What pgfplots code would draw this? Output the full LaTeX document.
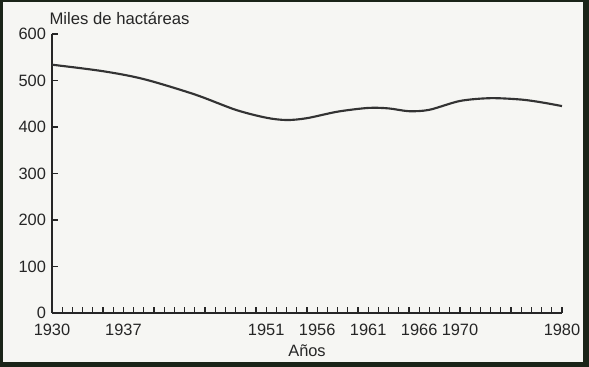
\documentclass[border=0pt]{standalone}
\usepackage{pgfplots}
\pgfplotsset{compat=1.18}
\usepackage{fontspec}
\setmainfont{Liberation Sans}
\definecolor{frame}{HTML}{1A2418}
\definecolor{paper}{HTML}{F6F6F3}
\begin{document}
\begin{tikzpicture}
\fill[frame] (-39pt,-40.5pt) rectangle (402.75pt,234.75pt);
\fill[paper] (-36.5pt,-37pt) rectangle (398.5pt,233pt);
\begin{axis}[
  at={(0,0)}, anchor=south west,
  scale only axis, width=382.5pt, height=209.25pt,
  xmin=1930, xmax=1980, ymin=0, ymax=600,
  axis x line=bottom, axis y line=left,
  axis line style={-, line width=1.1pt, black!85},
  xtick={1930,1937,1951,1956,1961,1966,1970,1980},
  minor xtick={1931,...,1979},
  ytick={0,100,...,600},
  tick align=inside,
  major tick length=4.5pt, minor tick length=4.5pt,
  every tick/.style={black!85, line width=0.9pt},
  /pgf/number format/1000 sep={},
  /pgf/number format/assume math mode=true,
  tick label style={font=\fontsize{12.3}{14}\selectfont, black!85},
  yticklabel style={xshift=-1pt},
  xticklabel style={yshift=-4.5pt},
  xlabel={Años},
  xlabel style={font=\fontsize{12.3}{14}\selectfont, black!85, yshift=0pt},
  clip=false,
]
\addplot[line width=1.6pt, black!80, smooth] coordinates {
(1930,534) (1935,520) (1939,503) (1944,470) (1948,437) (1951,420)
(1953,415) (1955,419) (1958,433) (1961,441) (1963,440) (1965,434)
(1967,437) (1970,456) (1973,462) (1976,459) (1978,453) (1980,445)
};
\node[anchor=south west, font=\fontsize{12.5}{14}\selectfont, black!85, inner sep=0pt] at (rel axis cs:0,1) [yshift=7pt, xshift=-2pt] {Miles de hactáreas};
\end{axis}
\end{tikzpicture}
\end{document}
